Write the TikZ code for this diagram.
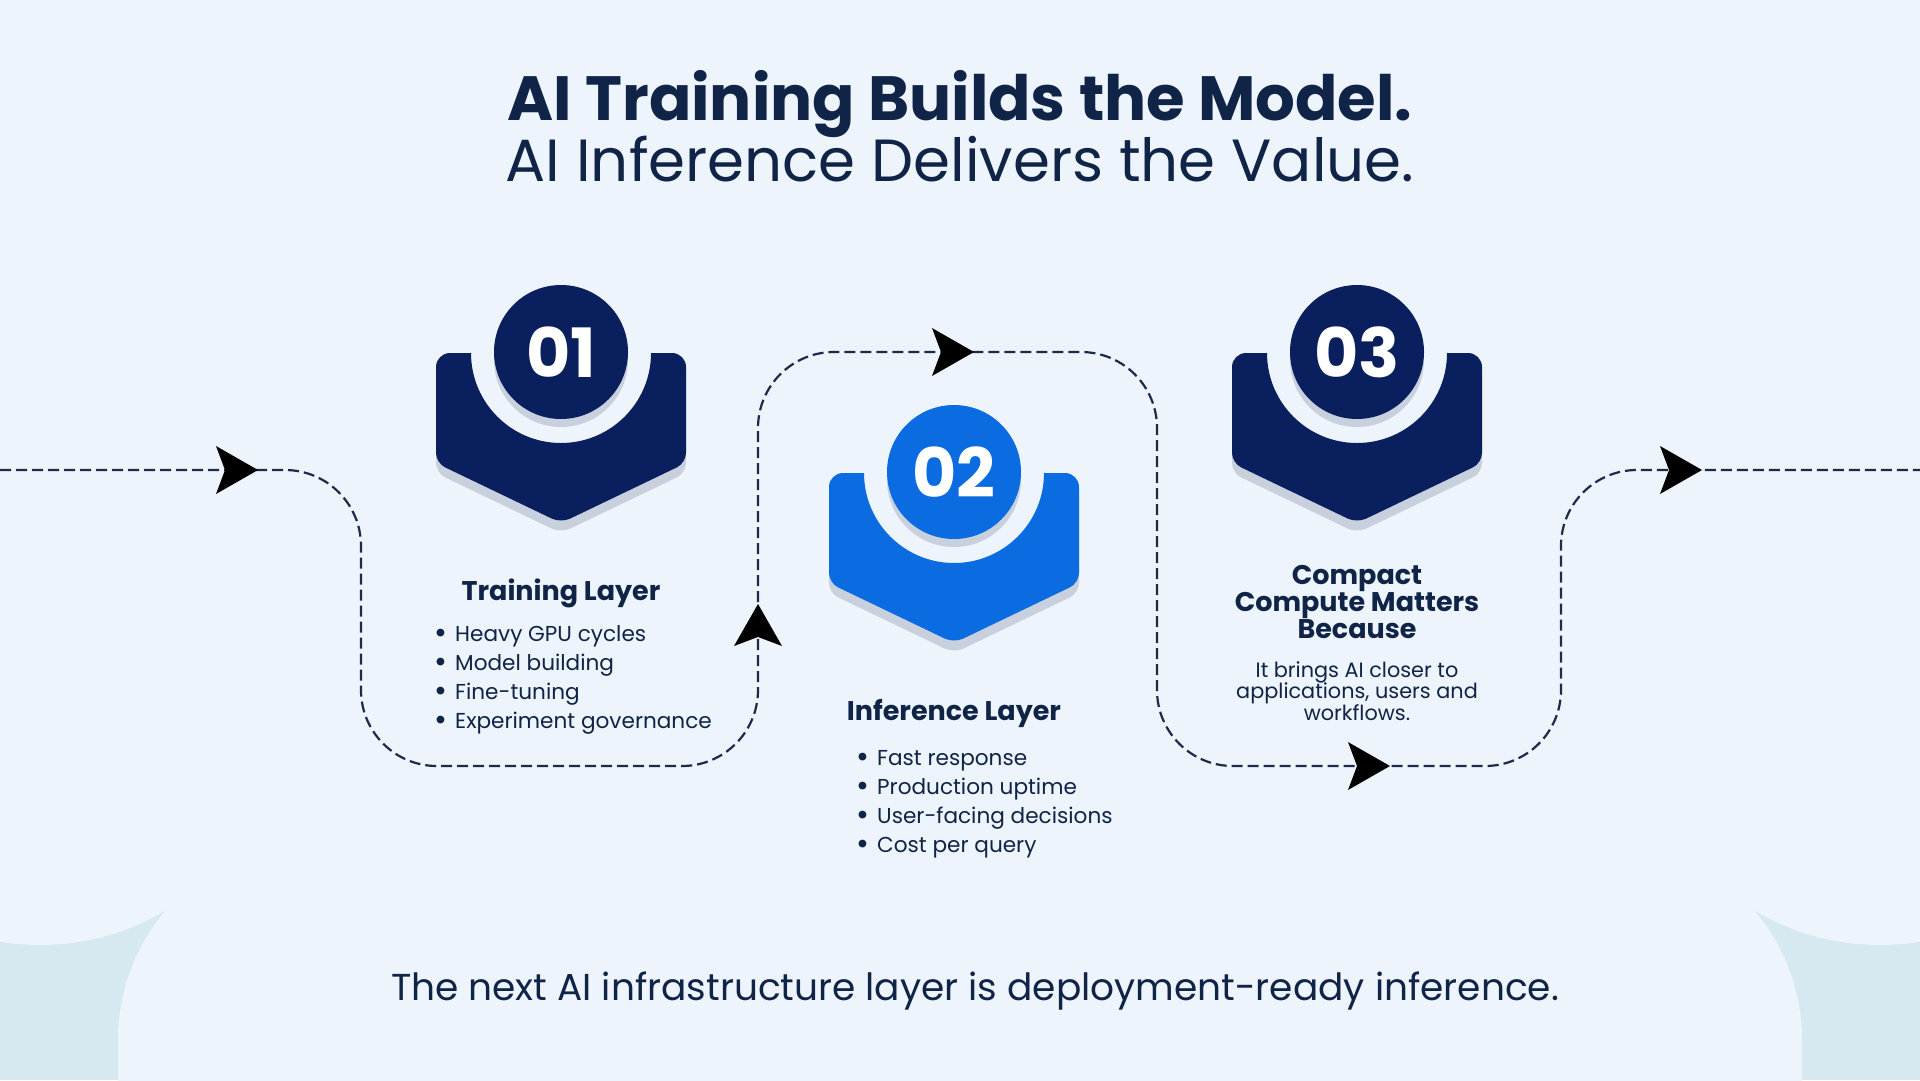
\documentclass[tikz,border=0pt]{standalone}
\usepackage{fontspec}
\setmainfont{Poppins}
\definecolor{bg}{HTML}{EEF4FB}
\definecolor{cornerc}{HTML}{D6E8F0}
\definecolor{navy}{HTML}{0A1F5E}
\definecolor{bright}{HTML}{0A6CE0}
\definecolor{shadowc}{HTML}{C8D0DD}
\definecolor{txt}{HTML}{0F2447}
\definecolor{dashc}{HTML}{1B2B4B}
\newcommand\badge[5]{%
  \fill[shadowc] ({#2-90},{#3+10}) [rounded corners=14] -- ({#2-125},{#3+10}) [rounded corners=10] -- ({#2-125},{#3+120}) -- ({#2},{#3+180}) -- ({#2+125},{#3+120}) [rounded corners=14] -- ({#2+125},{#3+10}) [sharp corners] -- ({#2+90},{#3+10}) arc[start angle=0,end angle=180,radius=90] -- cycle;
  \fill[#4] ({#2-90},{#3}) [rounded corners=14] -- ({#2-125},{#3}) [rounded corners=10] -- ({#2-125},{#3+110}) -- ({#2},{#3+170}) -- ({#2+125},{#3+110}) [rounded corners=14] -- ({#2+125},{#3}) [sharp corners] -- ({#2+90},{#3}) arc[start angle=0,end angle=180,radius=90] -- cycle;
  \fill[shadowc] (#2,{#3+7}) circle[radius=67];
  \node[numcircle, fill=#4] (#1) at (#2,{#3-1}) {#5};
}
\newcommand\arrowtip[3]{\fill[black, shift={(#1,#2)}, rotate=#3] (0,0) -- (-42,-24) -- (-33,0) -- (-42,24) -- cycle;}
\newcommand\bul{\makebox[21pt][l]{\raisebox{-2.6pt}{\scalebox{1.45}{•}}}}
\begin{document}
\begin{tikzpicture}[x=1pt,y=-1pt,
  dashpath/.style={draw=dashc, line width=2.2pt, dash pattern=on 11pt off 5pt},
  numcircle/.style={circle, minimum size=134pt, inner sep=0pt, text=white, font=\bfseries\fontsize{68}{68}\selectfont},
  titleb/.style={font=\bfseries\fontsize{62.5}{64}\selectfont, text=txt, inner sep=0pt, anchor=base},
  titler/.style={font=\fontsize{59.5}{64}\selectfont, text=txt, inner sep=0pt, anchor=base},
  head/.style={font=\bfseries\fontsize{27}{26.7}\selectfont, text=txt, inner sep=0pt, align=center, anchor=base},
  blist/.style={font=\fontsize{21.6}{29}\selectfont, text=txt, inner sep=0pt, align=left, anchor=base west},
  body/.style={font=\fontsize{20.8}{21.5}\selectfont, text=txt, inner sep=0pt, align=center, anchor=base},
  foot/.style={font=\fontsize{37.5}{40}\selectfont, text=txt, inner sep=0pt, anchor=base}]
\useasboundingbox (0,0) rectangle (1920,1080);
% background
\fill[bg] (0,0) rectangle (1920,1080);
\fill[cornerc] (0,906) rectangle (1920,1080);
\fill[bg] (40,700) circle[radius=245];
\fill[bg] (1880,700) circle[radius=245];
\fill[bg, rounded corners=200] (118,840) rectangle (1802,1300);
% dashed path
\coordinate (s0) at (0,470);
\coordinate (s1) at (361,470);
\coordinate (s2) at (361,766);
\coordinate (s3) at (758,766);
\coordinate (s4) at (758,352);
\coordinate (s5) at (1157,352);
\coordinate (s6) at (1157,766);
\coordinate (s7) at (1561,766);
\coordinate (s8) at (1561,470);
\coordinate (s9) at (1920,470);
\draw[dashpath, rounded corners=76] (s0) -- (s1) -- (s2) -- (s3) -- (s4) -- (s5) -- (s6) -- (s7) -- (s8) -- (s9);
\arrowtip{258}{470}{0}
\arrowtip{758}{604}{90}
\arrowtip{974}{352}{0}
\arrowtip{1390}{766}{0}
\arrowtip{1702}{470}{0}
% badges
\badge{b1}{561}{353}{navy}{01}
\badge{b2}{954}{473}{bright}{02}
\badge{b3}{1357}{353}{navy}{03}
% titles
\node[titleb] (t1) at (960,120) {AI Training Builds the Model.};
\node[titler] (t2) at (960,181) {AI Inference Delivers the Value.};
% column 1
\node[head] (h1) at (561,600) {Training Layer};
\node[blist] (l1) at (434,728) {\bul Heavy GPU cycles\\\bul Model building\\\bul Fine-tuning\\\bul Experiment governance};
% column 2
\node[head] (h2) at (954,720) {Inference Layer};
\node[blist] (l2) at (856,852) {\bul Fast response\\\bul Production uptime\\\bul User-facing decisions\\\bul Cost per query};
% column 3
\node[head] (h3) at (1357,638) {Compact\\Compute Matters\\Because};
\node[body] (d3) at (1357,720) {It brings AI closer to\\applications, users and\\workflows.};
% footer
\node[foot] (ft) at (975,1000) {The next AI infrastructure layer is deployment-ready inference.};
\end{tikzpicture}
\end{document}
